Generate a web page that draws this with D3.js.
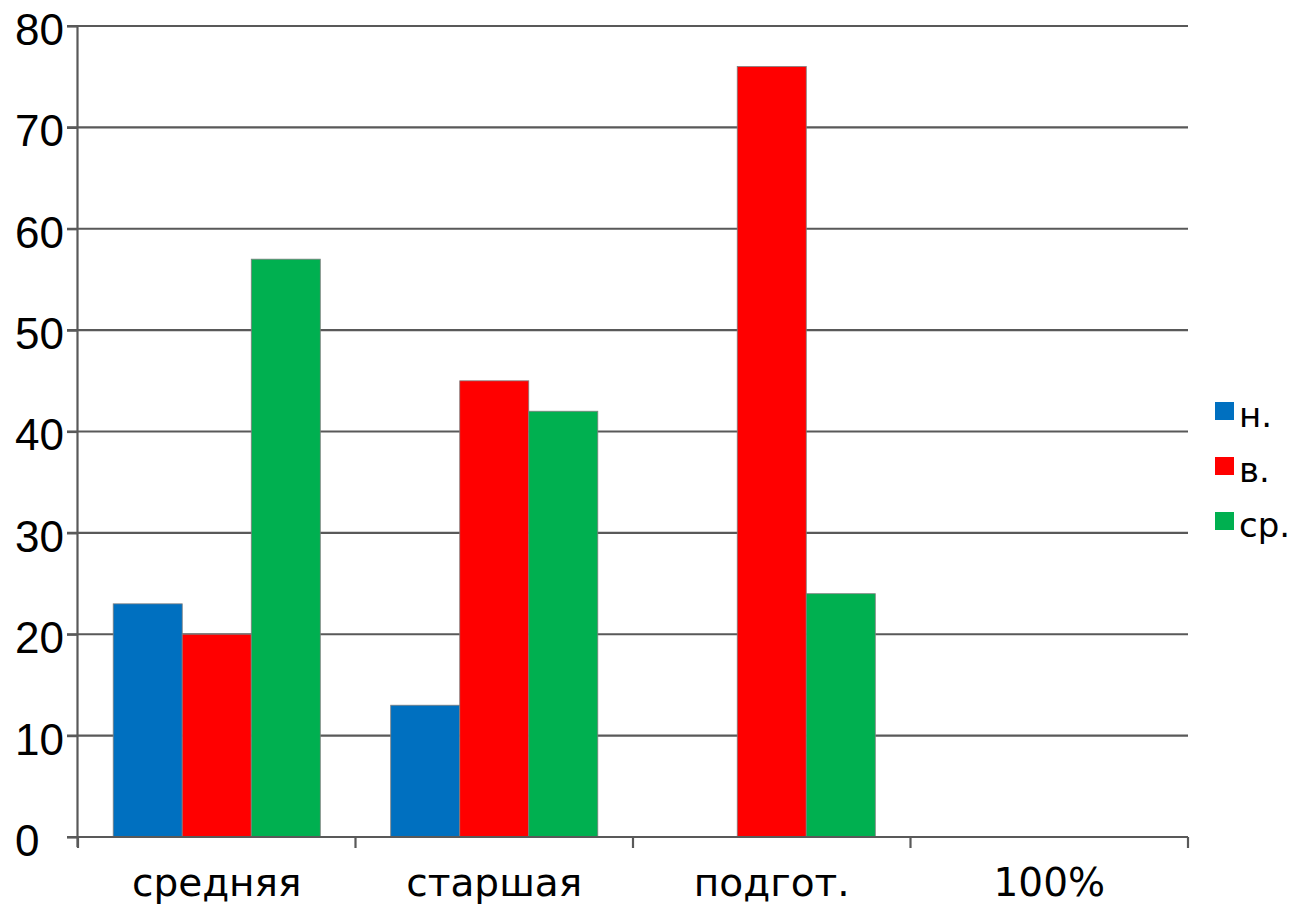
<!DOCTYPE html>
<html><head><meta charset="utf-8">
<script src="https://cdn.jsdelivr.net/npm/d3@7"></script>
<style>body{margin:0;background:#fff}svg{display:block}text{font-family:"DejaVu Sans",sans-serif;fill:#000}</style>
</head><body><svg id="c" width="1307" height="906"></svg>
<script>
const categories = ["средняя", "старшая", "подгот.", "100%"];
const seriesNames = ["н.", "в.", "ср."];
const seriesColors = ["#0070C0", "#FF0000", "#00B050"];
const valuesN = [23, 13, null, null];
const valuesV = [20, 45, 76, null];
const valuesSr = [57, 42, 24, null];
const yTicks = [0, 10, 20, 30, 40, 50, 60, 70, 80];

const seriesValues = [valuesN, valuesV, valuesSr];
const svg = d3.select("#c");
const mLeft = 78, mRight = 1188, mTop = 26, mBottom = 837;

const x0 = d3.scaleBand().domain(categories).range([mLeft, mRight]).padding(0);
const x1 = d3.scaleBand().domain(seriesNames).range([0, x0.bandwidth()]).paddingInner(0).paddingOuter(0.51);
const y = d3.scaleLinear().domain([0, 80]).range([mBottom, mTop]);

// gridlines
svg.append("g").selectAll("line").data(yTicks).join("line")
  .attr("x1", mLeft - 11).attr("x2", mRight)
  .attr("y1", d => y(d)).attr("y2", d => y(d))
  .attr("stroke", "#595959").attr("stroke-width", 2.2);

// bars
const data = [];
categories.forEach((c, i) => seriesNames.forEach((s, j) => {
  const v = seriesValues[j][i];
  if (v != null) data.push({c, s, v, color: seriesColors[j]});
}));
svg.append("g").selectAll("rect").data(data).join("rect")
  .attr("x", d => x0(d.c) + x1(d.s))
  .attr("width", x1.bandwidth())
  .attr("y", d => y(d.v))
  .attr("height", d => y(0) - y(d.v))
  .attr("fill", d => d.color)
  .attr("stroke", "#7f7f7f").attr("stroke-width", 0.8);

// y axis
const yAxis = d3.axisLeft(y).tickValues(yTicks).tickSize(11).tickFormat(d3.format("d"));
const gy = svg.append("g").attr("transform", `translate(${mLeft},0)`).call(yAxis);
gy.select(".domain").attr("stroke", "#595959").attr("stroke-width", 2.2).attr("d", `M-0.5,${mTop}V${mBottom + 10}`);
gy.selectAll(".tick line").attr("stroke", "#595959").attr("stroke-width", 2.2);
gy.selectAll("text")
  .attr("x", 15 - mLeft).attr("text-anchor", "start")
  .style("font-family", "'Liberation Sans', Arial, sans-serif")
  .style("font-size", "44px").attr("dy", "0.42em");

// x axis
const tickPos = categories.map(c => x0(c)).concat([mRight]);
svg.append("line").attr("x1", mLeft).attr("x2", mRight).attr("y1", mBottom).attr("y2", mBottom)
  .attr("stroke", "#595959").attr("stroke-width", 2.2);
svg.append("g").selectAll("line").data(tickPos).join("line")
  .attr("x1", d => d).attr("x2", d => d).attr("y1", mBottom).attr("y2", mBottom + 11)
  .attr("stroke", "#595959").attr("stroke-width", 2.2);
svg.append("g").selectAll("text").data(categories).join("text")
  .attr("x", d => x0(d) + x0.bandwidth() / 2)
  .attr("y", 896)
  .attr("text-anchor", "middle")
  .style("font-size", "39px")
  .text(d => d);

// legend
const lg = svg.append("g");
seriesNames.forEach((s, i) => {
  const cy = 411 + i * 55;
  lg.append("rect").attr("x", 1215).attr("y", cy - 9).attr("width", 19).attr("height", 18)
    .attr("fill", seriesColors[i]);
  lg.append("text").attr("x", 1239).attr("y", cy + 16).style("font-size", "34px").text(s);
});
</script></body></html>
